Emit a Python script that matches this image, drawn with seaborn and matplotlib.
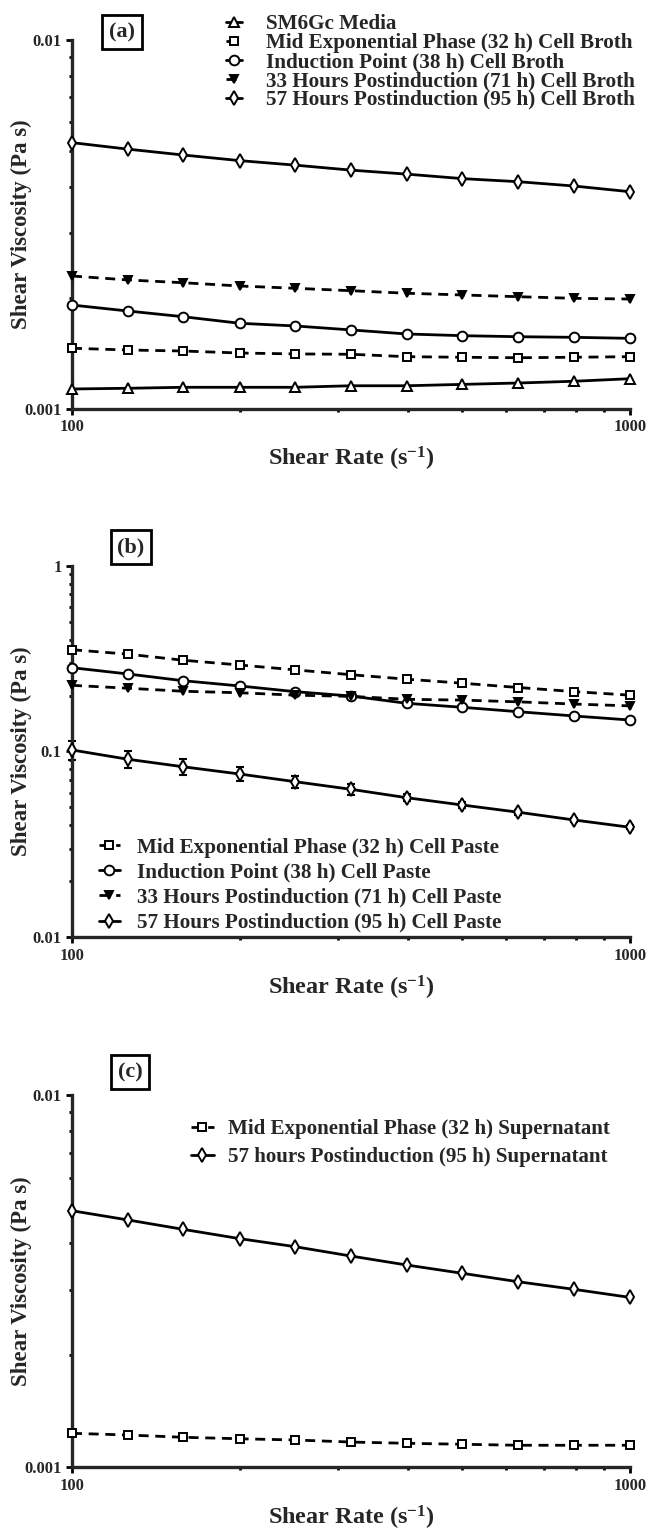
import matplotlib
matplotlib.use("Agg")
import matplotlib.pyplot as plt
from matplotlib.ticker import NullFormatter, LogLocator
import seaborn as sns

# --- data ---
shear_rate = [100, 126, 158, 200, 251, 316, 398, 501, 631, 794, 1000]

# (a) cell broth
sm6gc_media = [0.001133, 0.001138, 0.001145, 0.001145, 0.001145, 0.001156, 0.001156, 0.001166, 0.001176, 0.001189, 0.001208]
broth_32h = [0.001461, 0.001445, 0.001436, 0.001418, 0.001410, 0.001407, 0.001386, 0.001381, 0.001377, 0.001381, 0.001386]
broth_38h = [0.001913, 0.001843, 0.001779, 0.001707, 0.001679, 0.001638, 0.001597, 0.001580, 0.001570, 0.001564, 0.001554]
broth_71h = [0.002293, 0.002237, 0.002199, 0.002154, 0.002124, 0.002092, 0.002059, 0.002037, 0.002015, 0.001995, 0.001986]
broth_95h = [0.00527, 0.00506, 0.00488, 0.00471, 0.00458, 0.00444, 0.00433, 0.00421, 0.00413, 0.00402, 0.00388]

# (b) cell paste
paste_32h = [0.353, 0.334, 0.310, 0.292, 0.275, 0.259, 0.245, 0.233, 0.221, 0.210, 0.201]
paste_38h = [0.2825, 0.2613, 0.2405, 0.2252, 0.2099, 0.1989, 0.1817, 0.1729, 0.1637, 0.1553, 0.1477]
paste_71h = [0.227, 0.219, 0.211, 0.207, 0.201, 0.198, 0.191, 0.189, 0.185, 0.180, 0.176]
paste_95h = [0.1019, 0.0908, 0.0828, 0.0756, 0.0688, 0.0626, 0.0564, 0.0515, 0.0471, 0.0428, 0.0391]
paste_95h_err = [0.012, 0.0098, 0.0081, 0.0065, 0.0050, 0.0040, 0.0025, 0.0020, 0.0015, 0.0012, 0.0010]

# (c) supernatant
super_32h = [0.001234, 0.001221, 0.001204, 0.001193, 0.001184, 0.001169, 0.001160, 0.001153, 0.001146, 0.001146, 0.001146]
super_95h = [0.004888, 0.004617, 0.004358, 0.004112, 0.003914, 0.003694, 0.003494, 0.003319, 0.003150, 0.003006, 0.002860]

x_label = r"Shear Rate (s$^{\mathbf{-1}}$)"
y_label = "Shear Viscosity (Pa s)"

# --- style ---
sns.set_style("ticks")
plt.rcParams["font.family"] = ["Liberation Serif", "DejaVu Serif"]
plt.rcParams["font.weight"] = "bold"
plt.rcParams["axes.labelweight"] = "bold"
plt.rcParams["mathtext.fontset"] = "custom"
plt.rcParams["mathtext.rm"] = "Liberation Serif:bold"
plt.rcParams["mathtext.bf"] = "Liberation Serif:bold"
plt.rcParams["mathtext.it"] = "Liberation Serif:bold"

solid = "-"
dashed = (0, (3.6, 2.4))

def draw(ax, y, label, marker, ls, ms=6.5, filled=False):
    sns.lineplot(x=shear_rate, y=y, ax=ax, label=label, color="black",
                 linewidth=2, linestyle=ls, marker=marker, markersize=ms,
                 markerfacecolor="black" if filled else "white",
                 markeredgecolor="black", markeredgewidth=1.4,
                 clip_on=False, zorder=3)

def style_axes(ax, ylim, yticks, yticklabels):
    ax.set_xscale("log")
    ax.set_yscale("log")
    ax.set_xlim(100, 1000)
    ax.set_ylim(*ylim)
    ax.set_xticks([100, 1000], ["100", "1000"])
    ax.set_yticks(yticks, yticklabels)
    ax.xaxis.set_minor_locator(LogLocator(subs=range(2, 10)))
    ax.yaxis.set_minor_locator(LogLocator(subs=range(2, 10)))
    ax.xaxis.set_minor_formatter(NullFormatter())
    ax.yaxis.set_minor_formatter(NullFormatter())
    sns.despine(ax=ax)
    for s in ["left", "bottom"]:
        ax.spines[s].set_linewidth(2.4)
    ax.tick_params(which="major", direction="out", length=4.5, width=2,
                   labelsize=12, pad=3, color="black")
    ax.tick_params(which="minor", direction="out", length=2.5, width=2, color="black")
    ax.set_xlabel(x_label, fontsize=17.5, labelpad=7)
    ax.set_ylabel(y_label, fontsize=16.5)
    ax.yaxis.set_label_coords(-0.072, 0.5)

fig = plt.figure(figsize=(6.51, 15.31), dpi=100)
ax_a = fig.add_axes([0.1106, 0.73286, 0.8571, 0.24102])
ax_b = fig.add_axes([0.1106, 0.38779, 0.8571, 0.24272])
ax_c = fig.add_axes([0.1106, 0.04161, 0.8571, 0.24317])

# --- panel (a) ---
draw(ax_a, sm6gc_media, "SM6Gc Media", "^", solid)
draw(ax_a, broth_32h, "Mid Exponential Phase (32 h) Cell Broth", "s", dashed, ms=6)
draw(ax_a, broth_38h, "Induction Point (38 h) Cell Broth", "o", solid, ms=7)
draw(ax_a, broth_71h, "33 Hours Postinduction (71 h) Cell Broth", "v", dashed, ms=6, filled=True)
draw(ax_a, broth_95h, "57 Hours Postinduction (95 h) Cell Broth", "d", solid, ms=7)
style_axes(ax_a, (0.001, 0.01), [0.001, 0.01], ["0.001", "0.01"])
ax_a.legend(loc="upper left", bbox_to_anchor=(0.276, 1.07), frameon=False,
            fontsize=15.2, handlelength=0.75, handletextpad=1.15, labelspacing=-0.05,
            borderpad=0, borderaxespad=0)

# --- panel (b) ---
ax_b.errorbar(shear_rate, paste_95h, yerr=paste_95h_err, fmt="none", ecolor="black",
              elinewidth=1.5, capsize=3, capthick=1.5, clip_on=False, zorder=2)
draw(ax_b, paste_32h, "Mid Exponential Phase (32 h) Cell Paste", "s", dashed, ms=6)
draw(ax_b, paste_38h, "Induction Point (38 h) Cell Paste", "o", solid, ms=7)
draw(ax_b, paste_71h, "33 Hours Postinduction (71 h) Cell Paste", "v", dashed, ms=6, filled=True)
draw(ax_b, paste_95h, "57 Hours Postinduction (95 h) Cell Paste", "d", solid, ms=7)
style_axes(ax_b, (0.01, 1), [0.01, 0.1, 1], ["0.01", "0.1", "1"])
ax_b.legend(loc="upper left", bbox_to_anchor=(0.048, 0.268), frameon=False,
            fontsize=15.2, handlelength=1.0, handletextpad=0.8, labelspacing=0.24,
            borderpad=0, borderaxespad=0)

# --- panel (c) ---
draw(ax_c, super_32h, "Mid Exponential Phase (32 h) Supernatant", "s", dashed, ms=6)
draw(ax_c, super_95h, "57 hours Postinduction (95 h) Supernatant", "d", solid, ms=7)
style_axes(ax_c, (0.001, 0.01), [0.001, 0.01], ["0.001", "0.01"])
ax_c.legend(loc="upper left", bbox_to_anchor=(0.213, 0.935), frameon=False,
            fontsize=15.1, handlelength=1.1, handletextpad=0.68, labelspacing=0.38,
            borderpad=0, borderaxespad=0)

# panel tags
W, H = 651, 1531
for tag, px, py in [("(a)", 122, 32), ("(b)", 131, 547), ("(c)", 130, 1072)]:
    fig.text(px / W, 1 - py / H, tag, fontsize=16, fontweight="bold",
             ha="center", va="center",
             bbox=dict(boxstyle="square,pad=0.3", fc="white", ec="black", lw=2))

fig.savefig("out.png", dpi=100)
